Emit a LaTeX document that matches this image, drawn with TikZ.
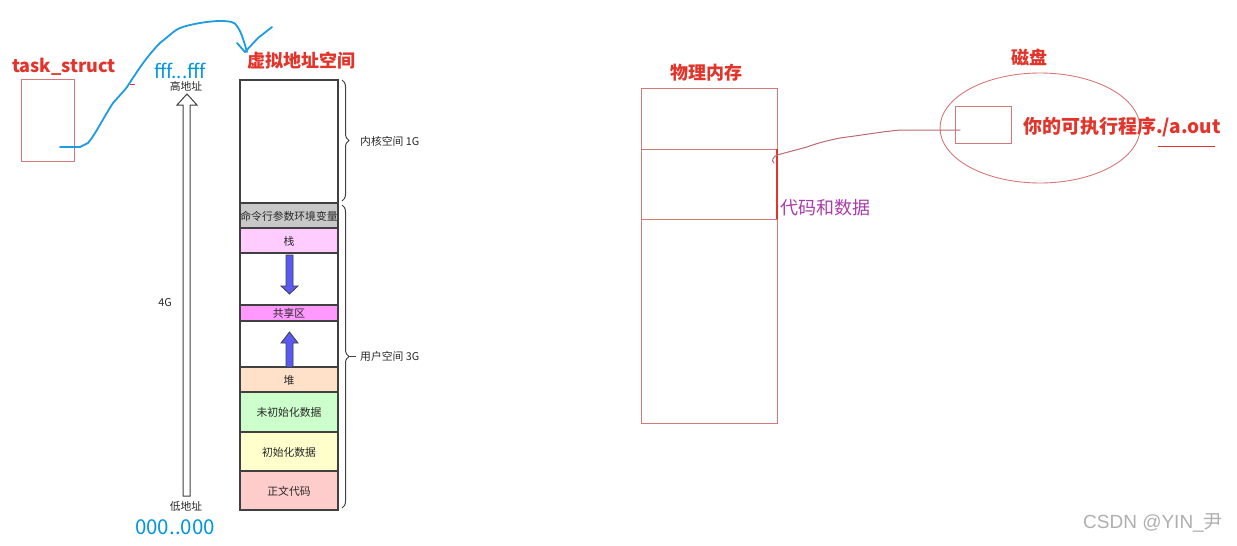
\documentclass[tikz,border=0pt]{standalone}
\usepackage{fontspec}
\setmainfont{Noto Sans CJK SC}
\newfontfamily\wmfont{Liberation Sans}
\usetikzlibrary{decorations.pathreplacing}
\definecolor{titlered}{RGB}{226,52,42}
\definecolor{skyblue}{RGB}{0,150,225}
\definecolor{curveblue}{RGB}{30,155,225}
\definecolor{boxred}{RGB}{215,120,120}
\definecolor{linkred}{RGB}{190,105,115}
\definecolor{segline}{RGB}{64,64,64}
\definecolor{labelgray}{RGB}{40,40,40}
\definecolor{cmdgray}{RGB}{200,200,200}
\definecolor{stackpink}{RGB}{255,204,255}
\definecolor{sharemag}{RGB}{255,153,255}
\definecolor{heappeach}{RGB}{255,224,200}
\definecolor{bssgreen}{RGB}{204,255,204}
\definecolor{datayellow}{RGB}{255,255,204}
\definecolor{textred}{RGB}{255,204,204}
\definecolor{arrowblue}{RGB}{90,90,240}
\definecolor{codepurple}{RGB}{170,60,170}
\definecolor{wmgray}{RGB}{175,175,175}
\tikzset{
  title/.style={font=\fontsize{18}{20}\selectfont\bfseries, text=titlered, inner sep=0pt},
  bluetxt/.style={font=\fontsize{19}{21}\selectfont, text=skyblue, inner sep=0pt},
  small/.style={font=\fontsize{10.8}{12}\selectfont, text=labelgray, inner sep=0pt},
  seg/.style={draw=segline, line width=1.6pt},
  thinred/.style={draw=boxred, line width=0.9pt},
  bluearrow/.style={fill=arrowblue, draw=segline, line width=0.8pt},
  bracestyle/.style={draw=segline, line width=1pt, decorate}
}
\begin{document}
\begin{tikzpicture}[x=1pt,y=-1pt]
\useasboundingbox (0,0) rectangle (1237,546);
\fill[white] (0,0) rectangle (1237,546);

% task_struct
\node[title, anchor=center] (ts) at (64,67) {task\_struct};
\draw[thinred] (21,79) rectangle (74,161);
\coordinate (tsin) at (60,147);

% blue hand curve
\coordinate (vtop) at (247,52);
\draw[curveblue, line width=1.8pt, line cap=round, line join=round]
  (tsin) -- (80,147) -- (88,143) .. controls (95,135) and (105,115) .. (113,103)
  .. controls (120,95) and (125,90) .. (127,87)
  .. controls (133,78) and (145,58) .. (160,43)
  .. controls (170,35) and (175,30) .. (180,28)
  .. controls (190,24) and (210,21) .. (220,21)
  .. controls (230,21) and (235,22) .. (237,26)
  .. controls (242,33) and (245,45) .. (vtop);
\draw[curveblue, line width=1.8pt, line cap=round, line join=round]
  (237,43) -- (245,52) -- (258,38) -- (272,27);
\draw[titlered, line width=1pt] (130,84) -- (135,84);

% address labels
\node[bluetxt] (fff) at (180,71) {fff...fff};
\node[small] (hi) at (186,86) {高地址};
\node[small] (fourg) at (165,303) {4G};
\node[small] (lo) at (186,506) {低地址};
\node[bluetxt, font=\fontsize{20.5}{22}\selectfont] (zero) at (175,527) {000..000};
\draw[draw=segline, fill=white, line width=1pt, line join=miter]
  (183,496) -- (183,105) -- (177,105) -- (187,94) -- (197,105) -- (190,105) -- (190,496) -- cycle;

% virtual address space
\node[title] (vtitle) at (301,61) {虚拟地址空间};
\draw[seg, fill=white] (240,80) rectangle (338,203);
\draw[seg, fill=cmdgray] (240,203) rectangle (338,228);
\draw[seg, fill=stackpink] (240,228) rectangle (338,253);
\draw[seg, fill=white] (240,253) rectangle (338,305);
\draw[seg, fill=sharemag] (240,305) rectangle (338,321);
\draw[seg, fill=white] (240,321) rectangle (338,367);
\draw[seg, fill=heappeach] (240,367) rectangle (338,392);
\draw[seg, fill=bssgreen] (240,392) rectangle (338,432);
\draw[seg, fill=datayellow] (240,432) rectangle (338,471);
\draw[seg, fill=textred] (240,471) rectangle (338,510);
\node[small] (cmd) at (289,216) {命令行参数环境变量};
\node[small] (stack) at (289,241) {栈};
\node[small] (share) at (289,313) {共享区};
\node[small] (heap) at (289,380) {堆};
\node[small] (bss) at (289,412) {未初始化数据};
\node[small] (data) at (289,452) {初始化数据};
\node[small] (text) at (289,491) {正文代码};

% growth arrows
\draw[bluearrow] (286,255) -- (293,255) -- (293,286) -- (298,286) -- (289.5,294) -- (281,286) -- (286,286) -- cycle;
\draw[bluearrow] (286,367) -- (293,367) -- (293,343) -- (298,343) -- (289.5,332) -- (281,343) -- (286,343) -- cycle;

% braces
\draw[bracestyle, decoration={brace, amplitude=7pt}] (342,80) -- (342,201);
\draw[bracestyle, decoration={brace, amplitude=7pt}] (342,205) -- (342,508);
\draw[segline, line width=1pt] (349,356) -- (356,356);
\node[small, anchor=west] (kern) at (360,141) {内核空间 1G};
\node[small, anchor=west] (user) at (360,356) {用户空间 3G};

% physical memory
\node[title] (ptitle) at (706,73) {物理内存};
\draw[thinred] (641,88) rectangle (777,423);
\draw[thinred] (641,149) -- (777,149);
\draw[thinred] (641,219) -- (777,219);
\draw[titlered, line width=1.2pt] (777,149) -- (777,219);
\coordinate (pm) at (777,155);
\node[font=\fontsize{18}{20}\selectfont, text=codepurple, inner sep=0pt, anchor=west] (code) at (780,208) {代码和数据};

% disk
\node[title] (dtitle) at (1029,57) {磁盘};
\draw[thinred] (1040,128) ellipse [x radius=100, y radius=55];
\draw[thinred] (955,106) rectangle (1011,143);
\coordinate (exe) at (960,130);
\node[title, font=\fontsize{19}{21}\selectfont\bfseries, anchor=west] (prog) at (1023,127) {你的可执行程序./a.out};
\draw[titlered, line width=0.9pt] (1158,146) -- (1215,146);

% pink link
\draw[linkred, line width=1pt, line cap=round]
  (exe) -- (950,130) -- (900,130) .. controls (880,132) and (870,134) .. (840,138)
  .. controls (825,141) and (815,144) .. (807,147) -- (pm)
  .. controls (773,157) and (771,161) .. (774,163);

% watermark
\node[font=\wmfont\fontsize{19}{21}\selectfont, text=wmgray, inner sep=0pt] (wm) at (1153,523) {CSDN @YIN\_{\fontspec{Noto Sans CJK SC}尹}};
\end{tikzpicture}
\end{document}
